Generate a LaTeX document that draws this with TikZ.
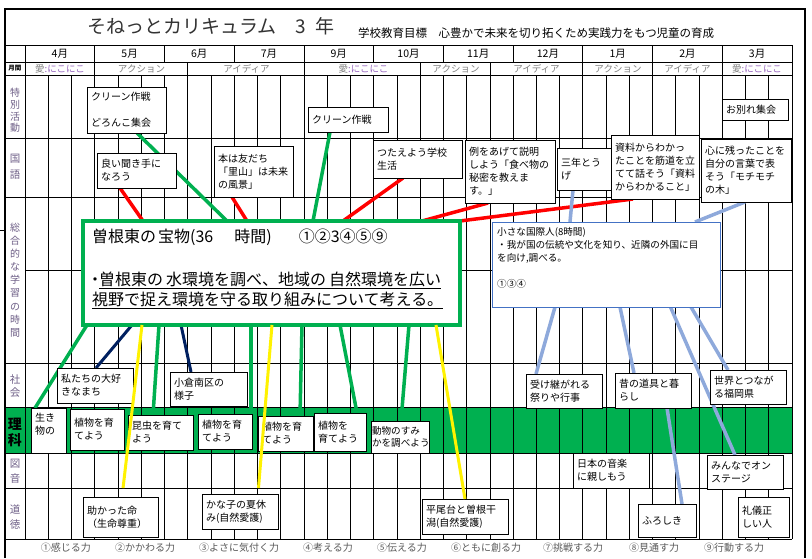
\documentclass[tikz,border=0pt]{standalone}
\usepackage{fontspec}
\setmainfont{Noto Sans CJK JP}
\definecolor{xgreen}{RGB}{0,176,80}
\definecolor{navyc}{RGB}{0,32,96}
\definecolor{lblue}{RGB}{142,169,219}
\definecolor{kokblue}{RGB}{68,114,196}
\definecolor{rowlab}{RGB}{110,95,135}
\definecolor{leggray}{RGB}{90,90,90}
\definecolor{nico}{RGB}{150,100,190}
\pgfdeclarelayer{gridl}
\pgfdeclarelayer{conn}
\pgfdeclarelayer{front}
\pgfsetlayers{gridl,conn,main,front}
\newcommand{\bx}[7][]{%
  \pgfmathsetmacro{\bxw}{#5-#3-8}%
  \pgfmathsetmacro{\bxh}{#6-#4}%
  \node[box, text width=\bxw pt, minimum height=\bxh pt, #1] (#2) at (#3,#4) {#7};}
\tikzset{
  box/.style={draw=black, line width=0.7pt, fill=white, inner xsep=4pt, inner ysep=2pt,
    outer sep=0pt, align=left, anchor=north west, font=\fontsize{10}{13}\selectfont},
  gl/.style={line width=0.7pt, black},
  mk/.style={font=\fontsize{9.5}{10}\selectfont, text=gray, inner sep=0pt},
  rl/.style={font=\fontsize{10.5}{13}\selectfont, text=rowlab, align=center, inner sep=0pt},
  leg/.style={font=\fontsize{10}{11}\selectfont, text=leggray, inner sep=0pt},
  redc/.style={draw=red, line width=3.5pt},
  grnc/.style={draw=xgreen, line width=3.5pt},
  yelc/.style={draw=yellow, line width=3pt},
  navc/.style={draw=navyc, line width=3pt},
  bluc/.style={draw=lblue, line width=3.5pt},
  cenbox/.style={draw=xgreen, line width=3.5pt, fill=white, outer sep=0pt, inner sep=0pt, anchor=north west},
  cent/.style={anchor=base west, inner sep=0pt, font=\fontsize{16}{20}\selectfont},
}
\begin{document}
\begin{tikzpicture}[x=1pt,y=-1pt]
\useasboundingbox (0,0) rectangle (812,558);

\begin{pgfonlayer}{gridl}
\fill[white] (0,0) rectangle (812,558);
\fill[xgreen] (5,407) rectangle (792,453);
\foreach \k in {0,...,33} \draw[gl] ({25+\k*23.2424},75) -- ({25+\k*23.2424},539);
\foreach \k in {0,3,...,33} \draw[gl] ({25+\k*23.2424},45) -- ({25+\k*23.2424},62);
\foreach \k in {0,3,7,12,17,20,24,27,30,33} \draw[gl] ({25+\k*23.2424},62) -- ({25+\k*23.2424},75);
\foreach \y in {45,62,75,138,197,363,407,453,488,539} \draw[gl] (5,\y) -- (792,\y);
\draw[gl] (25,270) -- (792,270);
\draw[line width=2.5pt] (5,558) -- (5,9) -- (805,9) -- (805,558);
\draw[line width=1pt] (0,230) -- (5,230);
\end{pgfonlayer}

% title
\node[anchor=west, inner sep=0pt, font=\fontsize{19}{19}\selectfont, text=black!80] (title) at (87,26) {そねっとカリキュラム　3\hspace{9pt}年};
\node[anchor=west, inner sep=0pt, font=\fontsize{11.5}{12}\selectfont] (goal) at (358,33) {学校教育目標　心豊かで未来を切り拓くため実践力をもつ児童の育成};

% months
\foreach \m [count=\i from 0] in {4月,5月,6月,7月,9月,10月,11月,12月,1月,2月,3月}
  \node[font=\fontsize{10.5}{11}\selectfont, inner sep=0pt] (mon\i) at ({25+(\i+0.5)*69.7273},53.5) {\m};

% monthly row
\node[font=\bfseries\fontsize{6.5}{7}\selectfont, inner sep=0pt] (gk) at (15,68.5) {月間};
\node[mk] (g1) at (60,68.5) {愛\textcolor{nico}{:にこにこ}};
\node[mk] (g2) at (141.5,68.5) {アクション};
\node[mk] (g3) at (246.5,68.5) {アイディア};
\node[mk] (g4) at (363.5,68.5) {愛\textcolor{nico}{:にこにこ}};
\node[mk] (g5) at (456,68.5) {アクション};
\node[mk] (g6) at (536.5,68.5) {アイディア};
\node[mk] (g7) at (618,68.5) {アクション};
\node[mk] (g8) at (687.5,68.5) {アイディア};
\node[mk] (g9) at (757,68.5) {愛\textcolor{nico}{:にこにこ}};

% row labels
\node[rl, font=\fontsize{10}{11.7}\selectfont] (r1) at (15,110.5) {特\\別\\活\\動};
\node[rl, font=\fontsize{10.5}{16.5}\selectfont] (r2) at (15,166.5) {国\\語};
\node[rl, font=\fontsize{10}{13.1}\selectfont] (r3) at (15,280) {総\\合\\的\\な\\学\\習\\の\\時\\間};
\node[rl] (r4) at (15,386.5) {社\\会};
\node[rl, text=black, font=\bfseries\fontsize{14}{16}\selectfont] (r5) at (15,432) {理\\科};
\node[rl, font=\fontsize{10.5}{14.5}\selectfont] (r6) at (15,471.5) {図\\音};
\node[rl, font=\fontsize{10.5}{15}\selectfont] (r7) at (15,516.5) {道\\徳};

% tokubetsu
\bx{tk1}{87}{87}{166}{133}{クリーン作戦\\[13pt]どろんこ集会}
\bx{tk2}{308}{107}{388}{132}{クリーン作戦}
\bx{tk3}{722}{99}{788}{120}{お別れ集会}
% kokugo
\bx{kg1}{97}{153}{176}{188}{良い聞き手に\\なろう}
\bx{kg2}{214}{146}{293}{197}{本は友だち\\「里山」は未来\\の風景」}
\bx{kg3}{373}{140}{462}{178}{つたえよう学校\\生活}
\bx{kg4}{465}{140}{555}{203}{例をあげて説明\\しよう「食べ物の\\秘密を教えま\\す。」}
\bx{kg5}{557}{148}{611}{190}{三年とう\\げ}
\bx{kg6}{611}{135}{699}{199}{資料からわかっ\\たことを筋道を立\\てて話そう「資料\\からわかること」}
\bx{kg7}{701}{139}{791}{202}{心に残ったことを\\自分の言葉で表\\そう「モチモチ\\の木」}

% centre box
\node[cenbox, minimum width=377pt, minimum height=104pt] (cen) at (83,221) {};
\node[cent] (ct1) at (92,242) {曽根東の\hspace{2pt}宝物(36\hspace{21pt}時間)\hspace{27pt}①②3④⑤⑨};
\node[cent] (ct2) at (90,285) {\hspace{-3pt}・\hspace{-4pt}\underline{曽根東の\hspace{3pt}水環境を調べ、地域の\hspace{3pt}自然環境を広い}};
\node[cent] (ct3) at (92,305) {\underline{視野で捉え環境を守る取り組みについて考える。}};

% kokusaijin box
\node[draw=kokblue, line width=0.8pt, fill=white, outer sep=0pt, minimum width=228pt, minimum height=85pt, anchor=north west] (kok) at (492,222) {};
\node[anchor=north west, inner sep=0pt, align=left, font=\fontsize{9.6}{13}\selectfont] (kokt) at (497,227.5) {小さな国際人(8時間)\\・我が国の伝統や文化を知り、近隣の外国に目\\を向け,調べる。\\[13pt]①③④};

% shakai
\bx{sk1}{57}{368}{133}{403}{私たちの大好\\きなまち}
\bx{sk2}{170}{372}{247}{406}{小倉南区の\\様子}
\bx{sk3}{526}{374}{602}{408}{受け継がれる\\祭りや行事}
\bx{sk4}{615}{373}{691}{408}{昔の道具と暮\\らし}
\bx{sk5}{710}{370}{786}{404}{世界とつなが\\る福岡県}
% rika
\bx{rk1}{31}{408}{66}{453}{生き\\物の\\\mbox{}}
\bx{rk2}{70}{409}{124}{450}{植物を育\\てよう}
\bx{rk3}{128}{415}{193}{450}{昆虫を育て\\よう}
\bx{rk4}{198}{414}{252}{449}{植物を育\\てよう}
\bx{rk5}{258}{416}{313}{451}{植物を育\\てよう}
\bx{rk6}{314}{413}{366}{451}{植物を\\育てよう}
\bx[inner xsep=1pt, text width=56pt, font=\fontsize{9.6}{12}\selectfont]{rk7}{371}{421}{429}{453}{動物のすみ\\かを調べよう}
% zuon
\bx{zo1}{573}{453}{649}{488}{日本の音楽\\に親しもう}
\bx{zo2}{707}{455}{783}{489}{みんなでオン\\ステージ}
% doutoku
\bx{dt1}{83}{497}{158}{537}{助かった命\\（生命尊重）}
\bx{dt2}{202}{494}{278}{529}{かな子の夏休\\み(自然愛護)}
\bx{dt3}{422}{499}{508}{534}{平尾台と曽根干\\潟(自然愛護)}
\bx{dt4}{638}{504}{696}{537}{ふろしき}
\bx{dt5}{738}{497}{789}{537}{礼儀正\\しい人}

% connectors under boxes
\begin{pgfonlayer}{conn}
\draw[redc] ([xshift=23pt]kg1.south west) -- ([xshift=60pt]cen.north west);
\draw[redc] ([xshift=18pt]kg2.south west) -- ([xshift=164pt]cen.north west);
\draw[redc] ([xshift=30pt]kg3.south west) -- ([xshift=260pt]cen.north west);
\draw[redc] ([xshift=23pt]kg4.south west) -- ([xshift=-38pt]cen.north east);
\draw[redc] ([xshift=22pt]kg6.south west) -- (cen.north east);
\draw[grnc] ([xshift=50pt]tk1.south west) -- ([xshift=144pt]cen.north west);
\draw[grnc] ([xshift=22pt]tk2.south west) -- ([xshift=230pt]cen.north west);
\draw[grnc] ([xshift=4pt]cen.south west) -- ([xshift=4pt]rk1.north west);
\draw[grnc] ([xshift=76pt]cen.south west) -- ([xshift=25pt]rk3.north west);
\draw[grnc] ([xshift=168pt]cen.south west) -- ([xshift=-1pt]rk4.north east);
\draw[grnc] ([xshift=219pt]cen.south west) -- ([xshift=42pt]rk5.north west);
\draw[grnc] ([xshift=257pt]cen.south west) -- ([xshift=43pt]rk6.north west);
\draw[grnc] ([xshift=326pt]cen.south west) -- ([xshift=30pt]rk7.north west);
\draw[navc] ([xshift=49pt]cen.south west) -- ([xshift=39pt]sk1.north west);
\draw[navc] ([xshift=98pt]cen.south west) -- ([xshift=21pt]sk2.north west);
\draw[bluc] ([xshift=16pt]kg5.south west) -- ([xshift=78pt]kok.north west);
\draw[bluc] ([xshift=44pt]kg7.south west) -- ([xshift=203pt]kok.north west);
\draw[bluc] ([xshift=63pt]kok.south west) -- ([xshift=10pt]sk3.north west);
\draw[bluc] ([xshift=128pt]kok.south west) -- ([xshift=19pt]sk4.north west);
\draw[bluc] ([xshift=178.5pt]kok.south west) -- ([xshift=28pt]zo2.north west);
\draw[bluc] ([xshift=199pt]kok.south west) -- ([xshift=18pt]sk5.north west);
\draw[bluc] ([xshift=52pt]sk4.south west) -- ([xshift=44pt]dt4.north west);
\end{pgfonlayer}
% yellow connectors over boxes
\begin{pgfonlayer}{front}
\draw[yelc, shorten >=9pt] ([xshift=59pt]cen.south west) -- ([xshift=39pt]dt1.north west);
\draw[yelc, shorten >=6pt] ([xshift=189pt]cen.south west) -- ([xshift=56pt]dt2.north west);
\draw[yelc] ([xshift=353pt]cen.south west) -- ([xshift=43pt]dt3.north west);
\end{pgfonlayer}

% legend
\node[leg] (l1) at (66,548) {①感じる力};
\node[leg] (l2) at (145,548) {②かかわる力};
\node[leg] (l3) at (239,548) {③よさに気付く力};
\node[leg] (l4) at (328,548) {④考える力};
\node[leg] (l5) at (402,548) {⑤伝える力};
\node[leg] (l6) at (486,548) {⑥ともに創る力};
\node[leg] (l7) at (573,548) {⑦挑戦する力};
\node[leg] (l8) at (654,548) {⑧見通す力};
\node[leg] (l9) at (734,548) {⑨行動する力};
\end{tikzpicture}
\end{document}
